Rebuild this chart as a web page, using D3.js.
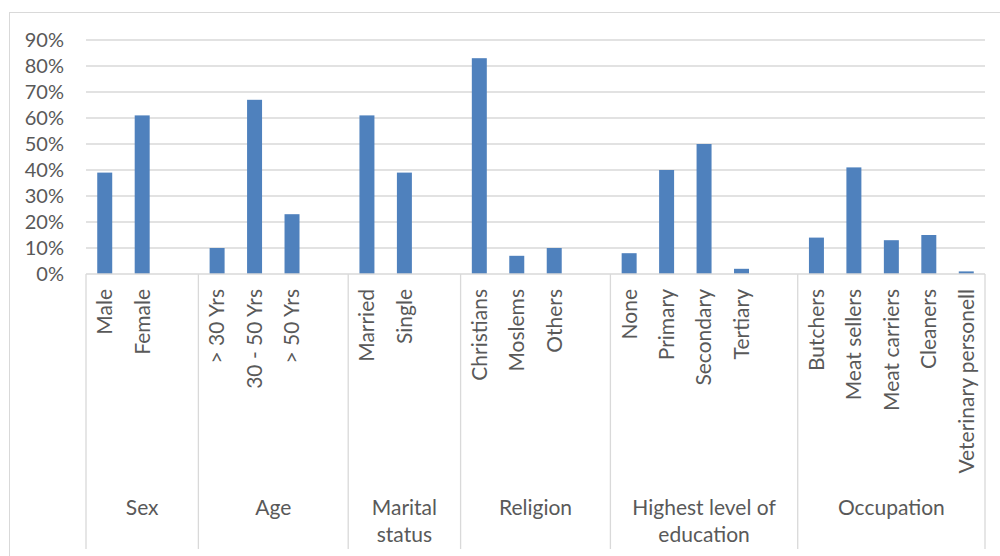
<!DOCTYPE html>
<html><head><meta charset="utf-8">
<script src="https://cdn.jsdelivr.net/npm/d3@7"></script>
<style>body{margin:0;background:#fff}svg{display:block}text{font-family:Lato,"Open Sans",sans-serif;fill:#595959}</style>
</head><body><svg id="c" width="1000" height="556"></svg>
<script>
// Data
const groupLines = [["Sex"],["Age"],["Marital","status"],["Religion"],["Highest level of","education"],["Occupation"]];
const sexCats = ["Male","Female"];
const sexVals = [0.39,0.61];
const ageCats = ["> 30 Yrs","30 - 50 Yrs","> 50 Yrs"];
const ageVals = [0.10,0.67,0.23];
const maritalCats = ["Married","Single"];
const maritalVals = [0.61,0.39];
const religionCats = ["Christians","Moslems","Others"];
const religionVals = [0.83,0.07,0.10];
const eduCats = ["None","Primary","Secondary","Tertiary"];
const eduVals = [0.08,0.40,0.50,0.02];
const occCats = ["Butchers","Meat sellers","Meat carriers","Cleaners","Veterinary personell"];
const occVals = [0.14,0.41,0.13,0.15,0.01];
const yTicks = [0,0.1,0.2,0.3,0.4,0.5,0.6,0.7,0.8,0.9];
// blank trailing slots per group (empty categories in the source sheet)
const blanks = [1,1,1,1,1,0];

const catLists = [sexCats,ageCats,maritalCats,religionCats,eduCats,occCats];
const valLists = [sexVals,ageVals,maritalVals,religionVals,eduVals,occVals];

const slots = [];
catLists.forEach((cats,gi)=>{
  cats.forEach((c,i)=>slots.push({id:gi+"_"+i,group:gi,label:c,value:valLists[gi][i]}));
  for(let b=0;b<blanks[gi];b++) slots.push({id:gi+"_b"+b,group:gi,label:"",value:null});
});

const svg = d3.select("#c");
const L=86, R=985, T=40, B=274;
const x = d3.scaleBand().domain(slots.map(d=>d.id)).range([L,R]).paddingInner(0.6).paddingOuter(0.3);
const y = d3.scaleLinear().domain([0,0.9]).range([B,T]);
const step = x.step();

// outer border
svg.append("rect").attr("x",9.5).attr("y",12.5).attr("width",1000).attr("height",600)
  .attr("fill","none").attr("stroke","#d9d9d9").attr("stroke-width",1);

// gridlines
svg.append("g").selectAll("line").data(yTicks.slice(1)).join("line")
  .attr("x1",L).attr("x2",R).attr("y1",d=>y(d)).attr("y2",d=>y(d))
  .attr("stroke","#d9d9d9").attr("stroke-width",1.3);

// y axis labels
const yAxis = d3.axisLeft(y).tickValues(yTicks).tickFormat(d3.format(".0%")).tickSize(0).tickPadding(22);
const ya = svg.append("g").attr("transform",`translate(${L},0)`).call(yAxis);
ya.select(".domain").remove();
ya.selectAll("text").style("font-size","20px").style("font-family","Lato, sans-serif").attr("fill","#595959");

// bars
svg.append("g").selectAll("rect").data(slots.filter(d=>d.value!==null)).join("rect")
  .attr("x",d=>x(d.id)).attr("width",x.bandwidth())
  .attr("y",d=>y(d.value)).attr("height",d=>B-y(d.value))
  .attr("fill","#4f81bd");

// axis baseline
svg.append("line").attr("x1",L).attr("x2",R).attr("y1",B).attr("y2",B)
  .attr("stroke","#d9d9d9").attr("stroke-width",1.3);

// group boundaries
const edges=[L];
let acc=0;
catLists.forEach((cats,gi)=>{acc+=cats.length+blanks[gi]; edges.push(L+acc*step);});
svg.append("g").selectAll("line").data(edges).join("line")
  .attr("x1",d=>d).attr("x2",d=>d).attr("y1",B).attr("y2",549)
  .attr("stroke","#d9d9d9").attr("stroke-width",1.3);

// category labels (rotated)
svg.append("g").selectAll("text").data(slots.filter(d=>d.label)).join("text")
  .attr("transform",d=>`translate(${x(d.id)+x.bandwidth()/2},289) rotate(-90)`)
  .attr("text-anchor","end").attr("dy","0.35em")
  .style("font-size","21px").text(d=>d.label);

// group labels
const gl = svg.append("g").selectAll("text").data(groupLines).join("text")
  .attr("x",(d,i)=>(edges[i]+edges[i+1])/2).attr("y",515)
  .attr("text-anchor","middle").style("font-size","21px");
gl.selectAll("tspan").data(d=>d).join("tspan")
  .attr("x",function(){return this.parentNode.getAttribute("x");})
  .attr("dy",(d,i)=>i?27:0).text(d=>d);
</script></body></html>
